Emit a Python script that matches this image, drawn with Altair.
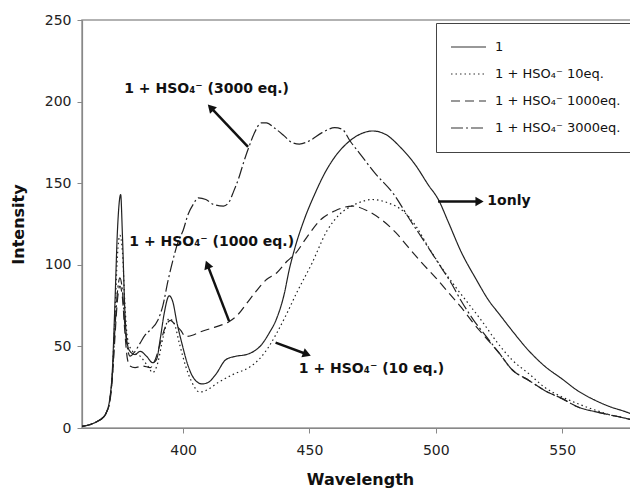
import altair as alt
import pandas as pd

series_names = ["1", "1 + HSO\u2084\u207b 10eq.", "1 + HSO\u2084\u207b 1000eq.", "1 + HSO\u2084\u207b 3000eq."]

wl1 = [360, 363, 366, 368, 369.5, 371, 372, 373, 374, 375.3, 376, 377, 378, 379, 381, 383, 385.5, 388, 389.5, 391,
       392.5, 394.5, 396, 397.5, 399.5, 402, 404, 407.5, 410, 413, 417, 421, 425, 428, 431, 434, 437, 440, 442, 444,
       448, 452, 456, 460, 466, 470, 475, 480, 486, 492, 497, 501, 505, 510, 516, 521, 525, 530, 537, 543,
       550, 556, 563, 569, 575, 580]
I1 = [1, 2, 4, 6, 9, 18, 35, 75, 120, 143, 118, 70, 51, 47, 45, 47, 44, 40, 42, 55,
      70, 81, 77, 65, 52, 38, 31, 27, 28, 33, 42, 44, 45, 47, 51, 58, 67, 82, 97, 109,
      128, 143, 156, 166, 176, 180, 182, 180, 172, 161, 149, 140, 126, 108, 91, 78, 70, 60, 47, 38,
      30, 23, 17, 13, 10, 7]

wl2 = [360, 363, 366, 368, 369.5, 371, 372, 373, 374, 375, 376, 377, 378, 380, 383, 386, 388, 390, 392, 394.5,
       396.5, 398.5, 401, 403.5, 406.5, 409, 414, 420, 426, 430, 434, 437, 441, 445, 451, 457, 462, 468, 475, 481,
       487, 492, 497, 502, 508, 513, 518, 524, 530, 537, 543, 550, 556, 563, 569, 575, 580]
I2 = [1, 2, 4, 6, 9, 17, 33, 68, 105, 118, 108, 75, 55, 47, 44, 38, 34, 40, 55, 67,
      64, 52, 38, 28, 22, 23, 28, 33, 37, 42, 50, 58, 70, 83, 101, 121, 131, 137, 140, 138,
      133, 124, 111, 99, 86, 76, 66, 53, 42, 33, 25, 19, 15, 11, 8, 6, 4]

wl3 = [360, 363, 366, 368, 369.5, 371, 372, 373, 374, 375, 376, 377, 378, 379, 381, 384, 387, 389, 391, 393,
       395, 397, 399, 401, 404, 407, 411, 415, 418, 422, 425, 429, 433, 437, 441, 444.5, 449, 454, 460, 467,
       473, 479, 484, 489, 494, 500, 505, 510, 515, 520, 525, 530, 537, 543, 550, 556, 563, 569, 575, 580]
I3 = [1, 2, 4, 6, 9, 16, 30, 55, 78, 87, 80, 58, 42, 38, 37, 38, 37, 42, 52, 62,
      66, 63, 60, 56, 57, 59, 61, 63, 65, 70, 76, 84, 91, 95, 102, 107, 117, 127, 133, 136,
      133, 127, 120, 111, 102, 92, 83, 74, 64, 55, 46, 36, 29, 23, 18, 13, 10, 8, 6, 4]

wl4 = [360, 363, 366, 368, 369.5, 371, 372, 373, 374, 375, 376, 377, 378, 379, 381, 383, 385, 387, 390, 392,
       394, 396, 398, 400, 402, 404, 406, 409, 412, 416, 418, 420, 422, 424, 426, 428, 431, 433, 436, 440,
       443, 446, 450, 455, 460, 463, 466, 470, 476, 483, 490, 496, 501, 506, 510, 515, 520, 525, 530, 537,
       543, 550, 556, 563, 569, 575, 580]
I4 = [1, 2, 4, 6, 9, 17, 32, 60, 83, 92, 84, 62, 49, 44, 47, 52, 57, 60, 66, 75,
      90, 103, 114, 121, 131, 137, 141, 140, 137, 136, 138, 145, 153, 163, 172, 180, 187, 187, 184, 179,
      175, 174, 176, 181, 184, 183, 176, 168, 156, 144, 127, 113, 101, 89, 78, 66, 56, 46, 36, 29,
      23, 18, 13, 10, 8, 6, 4]

x_ticks = [400, 450, 500, 550]
y_ticks = [0, 50, 100, 150, 200, 250]

ann_text = ["1 + HSO\u2084\u207b (3000 eq.)", "1 + HSO\u2084\u207b (1000 eq.)", "1 + HSO\u2084\u207b (10 eq.)", "1only"]
ann_x = [376.7, 378.7, 445.8, 520.4]
ann_y = [208, 114.2, 36, 138.8]

arrow_tail_x = [425.7, 418.2, 436.6, 500.9]
arrow_tail_y = [172.3, 65.5, 52.3, 138.8]
arrow_tip_x = [410.9, 409.6, 449.0, 517.3]
arrow_tip_y = [196.4, 100.1, 45.2, 138.8]
arrow_angle = [316.6, 339, 110.3, 90]

rows = []
for name, wl, it in zip(series_names, [wl1, wl2, wl3, wl4], [I1, I2, I3, I4]):
    for w, v in zip(wl, it):
        rows.append({"series": name, "wl": w, "I": v})
df = pd.DataFrame(rows)

ann_df = pd.DataFrame({"text": ann_text, "x": ann_x, "y": ann_y})
arr_df = pd.DataFrame({"x": arrow_tail_x, "y": arrow_tail_y, "x2": arrow_tip_x,
                       "y2": arrow_tip_y, "angle": arrow_angle})

xscale = alt.Scale(domain=[360, 580], nice=False, zero=False)
yscale = alt.Scale(domain=[0, 250], nice=False, zero=True)

x_enc = alt.X("wl:Q", scale=xscale,
              axis=alt.Axis(values=x_ticks, title="Wavelength", grid=False, format="d"))
y_enc = alt.Y("I:Q", scale=yscale,
              axis=alt.Axis(values=y_ticks, title="Intensity", grid=False, format="d"))

lines = alt.Chart(df).mark_line(strokeWidth=1.2, clip=True, interpolate="monotone", color="#222222").encode(
    x=x_enc,
    y=y_enc,
    strokeDash=alt.StrokeDash(
        "series:N",
        scale=alt.Scale(domain=series_names, range=[[1, 0], [1.5, 3], [9, 5], [12, 3, 2, 3]]),
        legend=alt.Legend(
            title=None, orient="none", legendX=354, legendY=3, direction="vertical",
            strokeColor="#444", fillColor="white", padding=14,
            symbolType="stroke", symbolSize=1225, symbolStrokeWidth=1.2,
            symbolStrokeColor="#333", labelFont="DejaVu Sans", labelFontSize=13,
            labelColor="#111", labelOffset=8, rowPadding=7, clipHeight=20, labelLimit=300,
        ),
    ),
    order=alt.Order("wl:Q"),
)

texts = alt.Chart(ann_df).mark_text(align="left", baseline="middle", font="DejaVu Sans",
                                    fontWeight="bold", fontSize=14, color="#111").encode(
    x=alt.X("x:Q", scale=xscale), y=alt.Y("y:Q", scale=yscale), text="text:N")

shafts = alt.Chart(arr_df).mark_rule(strokeWidth=2.5, color="#111").encode(
    x=alt.X("x:Q", scale=xscale), y=alt.Y("y:Q", scale=yscale), x2="x2:Q", y2="y2:Q")

heads = alt.Chart(arr_df).mark_point(shape="triangle-up", filled=True, size=90, color="#111",
                                     opacity=1).encode(
    x=alt.X("x2:Q", scale=xscale), y=alt.Y("y2:Q", scale=yscale), angle=alt.Angle("angle:Q", scale=None))

chart = alt.layer(lines, shafts, heads, texts).properties(
    width=556, height=408,
    autosize=alt.AutoSizeParams(type="none"),
    padding={"left": 74, "top": 12, "right": -8, "bottom": 60},
).configure_view(stroke="#999", strokeWidth=1.5).configure_axis(
    labelFont="DejaVu Sans", labelFontSize=14, labelColor="#222",
    titleFont="DejaVu Sans", titleFontSize=16, titleFontWeight="bold", titleColor="#111",
    domainColor="#888", tickColor="#888", tickSize=5, domainWidth=1.2,
).configure_axisY(labelPadding=6, titlePadding=18).configure_axisX(labelPadding=10, titlePadding=14)

chart.save("out.html", embed_options={"renderer": "svg", "actions": False})
